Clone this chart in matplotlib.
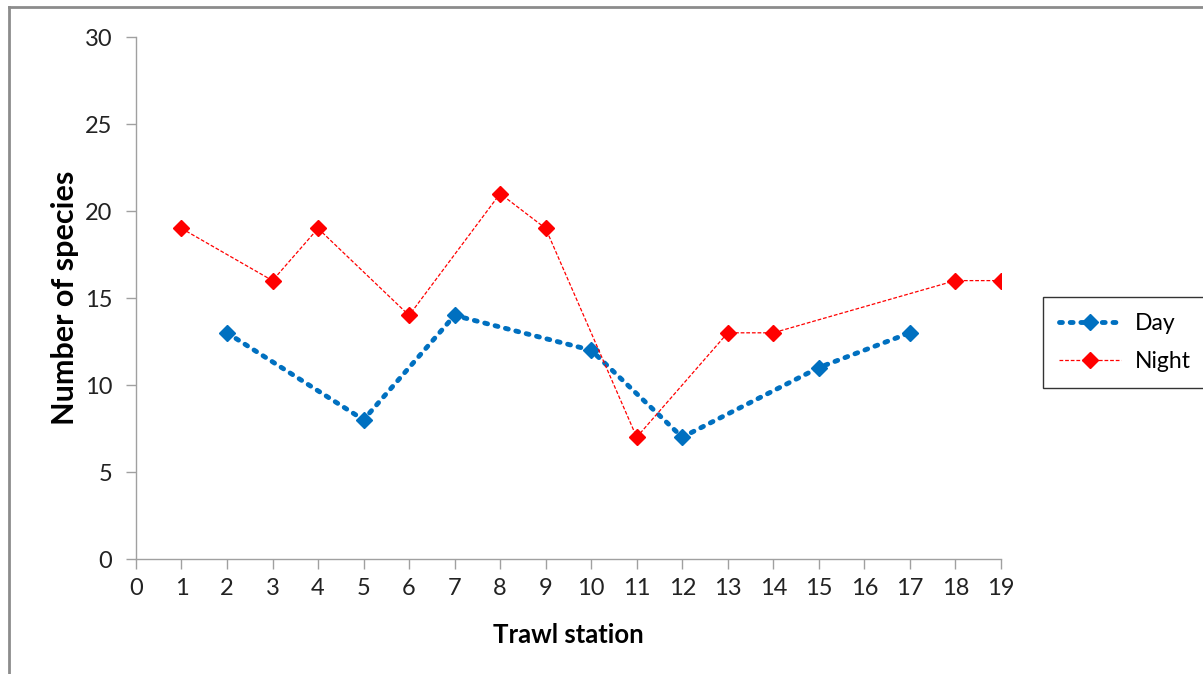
import matplotlib.pyplot as plt
from matplotlib.lines import Line2D

# Species counts per trawl station, split by day and night hauls
day_stations = [2, 5, 7, 10, 12, 15, 17]
day_species = [13, 8, 14, 12, 7, 11, 13]

night_stations = [1, 3, 4, 6, 8, 9, 11, 13, 14, 18, 19]
night_species = [19, 16, 19, 14, 21, 19, 7, 13, 13, 16, 16]

x_ticks = list(range(0, 20))
y_ticks = [0, 5, 10, 15, 20, 25, 30]

plt.rcParams["font.family"] = ["Lato", "DejaVu Sans"]

fig = plt.figure(figsize=(12.03, 6.74), dpi=100)
ax = fig.add_axes([0.113, 0.1706, 0.719, 0.7745])

day_color = "#0070C0"
night_color = "#FF0000"
day_style = dict(color=day_color, linestyle=(0, (0.6, 1.6)), linewidth=3.5,
                 dash_capstyle="round", marker="D", markersize=8.5)
night_style = dict(color=night_color, linestyle=(0, (3, 1.5)), linewidth=0.9,
                   marker="D", markersize=8.5)

ax.plot(day_stations, day_species, label="Day", zorder=3, **day_style)
ax.plot(night_stations, night_species, label="Night", zorder=3, **night_style)

ax.set_xlim(0, 19)
ax.set_ylim(0, 30)
ax.set_xticks(x_ticks)
ax.set_yticks(y_ticks)
ax.tick_params(axis="both", labelsize=17, color="#A0A0A0", length=7,
               width=1, labelcolor="#222222")
ax.tick_params(axis="x", pad=7)
ax.tick_params(axis="y", pad=10)

for side in ["top", "right"]:
    ax.spines[side].set_visible(False)
for side in ["left", "bottom"]:
    ax.spines[side].set_color("#A0A0A0")
    ax.spines[side].set_linewidth(1)

ax.set_xlabel("Trawl station", fontsize=18.5, fontweight="bold")
ax.set_ylabel("Number of species", fontsize=22, fontweight="bold")
ax.xaxis.set_label_coords(0.5, -0.122)
ax.yaxis.set_label_coords(-0.066, 0.5)

handles = [Line2D([], [], **day_style), Line2D([], [], **night_style)]
leg = fig.legend(handles, ["Day", "Night"], loc="upper left",
                 bbox_to_anchor=(1043 / 1203, 1 - 297 / 674),
                 fontsize=16.5, frameon=True, fancybox=False, handlelength=2.7,
                 borderpad=0.7, labelspacing=0.75, handletextpad=0.6,
                 borderaxespad=0)
leg.get_frame().set_edgecolor("black")
leg.get_frame().set_linewidth(1)

# Chart-area border along the left and top edges
fig.add_artist(Line2D([9 / 1203, 9 / 1203], [0, 1 - 7 / 674],
                      color="#8C8C8C", linewidth=2, transform=fig.transFigure))
fig.add_artist(Line2D([9 / 1203, 1], [1 - 7 / 674, 1 - 7 / 674],
                      color="#8C8C8C", linewidth=2, transform=fig.transFigure))

fig.savefig("out.png", dpi=100)
